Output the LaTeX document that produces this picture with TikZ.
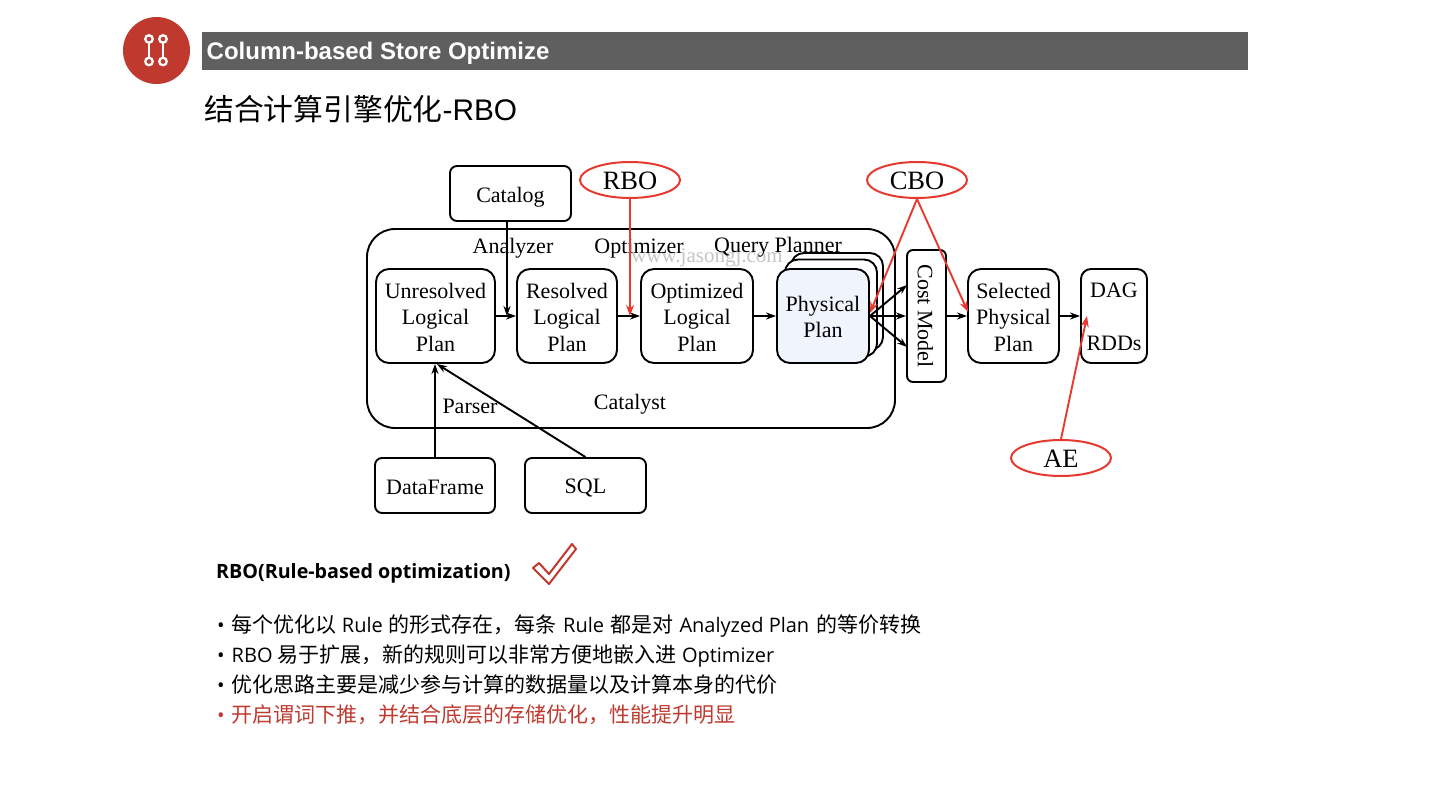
\documentclass[tikz,border=0pt]{standalone}
\usepackage{fontspec}
\usetikzlibrary{arrows.meta,shapes.geometric}
\setmainfont{Open Sans}
\newfontfamily\cjk{Noto Sans CJK SC}
\newfontfamily\sansb{Liberation Sans}
\newfontfamily\serifd{Liberation Serif}
\newcommand{\zh}[1]{{\cjk\fontsize{21}{24}\selectfont #1}}
\newcommand{\dn}[2]{\raisebox{0pt}[\dimexpr\height+#1+#1\relax][\depth]{#2}}
\definecolor{brickred}{HTML}{C0392F}
\definecolor{redline}{HTML}{E8392F}
\definecolor{titlegray}{HTML}{5F5F5F}
\definecolor{physfill}{HTML}{F0F4FC}
\definecolor{wmgray}{HTML}{C4C4C4}
\tikzset{
  x=1pt,y=-1pt,
  plan/.style={draw=black,line width=1.9pt,rounded corners=13pt,inner sep=0pt,align=center,fill=white,
    font=\serifd\fontsize{22}{26.5}\selectfont},
  srcbox/.style={plan,rounded corners=7pt},
  lab/.style={inner sep=0pt,font=\serifd\fontsize{22}{26}\selectfont},
  oval/.style={draw=redline,line width=2pt,ellipse,inner sep=0pt,minimum width=100pt,minimum height=36pt,
    font=\serifd\fontsize{26.5}{30}\selectfont},
  flow/.style={draw=black,line width=1.9pt,-{Stealth[length=10pt,width=7pt]}},
  redflow/.style={draw=redline,line width=1.9pt,-{Stealth[length=11pt,width=8pt]}},
  bodyline/.style={anchor=base west,inner sep=0pt,font=\fontsize{20}{24}\selectfont},
  dumb/.style={draw=white,line width=2.3pt},
}
\begin{document}
\begin{tikzpicture}
\useasboundingbox (0,0) rectangle (1440,810);
% header
\node[circle,fill=brickred,minimum size=67pt,inner sep=0pt] (icon) at (156.5,50.5) {};
\node[circle,dumb,minimum size=7.5pt,inner sep=0pt] (i1t) at (149,39) {};
\node[circle,dumb,minimum size=7.5pt,inner sep=0pt] (i1b) at (149,61.5) {};
\node[circle,dumb,minimum size=7.5pt,inner sep=0pt] (i2t) at (163,39) {};
\node[circle,dumb,minimum size=7.5pt,inner sep=0pt] (i2b) at (163,61.5) {};
\draw[dumb] (i1t) -- (i1b);
\draw[dumb] (i2t) -- (i2b);
\node[fill=titlegray,minimum width=1046pt,minimum height=38pt,inner sep=0pt] (bar) at (725,51) {};
\node[anchor=base west,inner sep=0pt,text=white,font=\sansb\bfseries\fontsize{24}{28}\selectfont] (title) at (206.5,59.5) {Column-based Store Optimize};
\node[anchor=base west,inner sep=0pt,font=\fontsize{29.8}{34}\selectfont] (subtitle) at (204,120.5) {{\cjk 结合计算引擎优化}{\sansb -RBO}};
% diagram
\node[inner sep=0pt,text=wmgray,font=\serifd\fontsize{21}{24}\selectfont] (wm) at (707,258) {www.jasongj.com};
\node[draw=black,line width=1.9pt,rounded corners=28pt,minimum width=528pt,minimum height=199pt,inner sep=0pt] (catalyst) at (631,328.5) {};
\node[srcbox,minimum width=121pt,minimum height=55pt] (catalog) at (510.5,193.5) {\dn{3.5pt}{Catalog}};
\node[plan,minimum width=119pt,minimum height=94pt] (unres) at (435.5,316) {\dn{1pt}{Unresolved}\\Logical\\Plan};
\node[plan,minimum width=100pt,minimum height=94pt] (res) at (567,316) {\dn{1pt}{Resolved}\\Logical\\Plan};
\node[plan,minimum width=112pt,minimum height=94pt] (opt) at (697,316) {\dn{1pt}{Optimized}\\Logical\\Plan};
\node[plan,minimum width=92pt,minimum height=97pt] (phc) at (837,301.5) {};
\node[plan,minimum width=92pt,minimum height=97pt] (phb) at (831,308) {};
\node[plan,fill=physfill,minimum width=92pt,minimum height=94pt] (phys) at (823,316) {\dn{1pt}{Physical}\\Plan};
\node[plan,rounded corners=6pt,minimum width=39pt,minimum height=132pt] (cost) at (926.5,316) {};
\node[inner sep=0pt,rotate=-90,font=\serifd\fontsize{22}{26}\selectfont] (costt) at (925.5,316) {Cost Model};
\node[plan,minimum width=91pt,minimum height=94pt] (sel) at (1013.5,316) {\dn{1pt}{Selected}\\Physical\\Plan};
\node[plan,rounded corners=10pt,minimum width=66pt,minimum height=94pt] (dag) at (1114,316) {\dn{1pt}{DAG}\\\mbox{}\\RDDs};
\node[srcbox,minimum width=120pt,minimum height=55pt] (df) at (435,485.5) {\dn{2pt}{DataFrame}};
\node[srcbox,minimum width=121pt,minimum height=55pt] (sql) at (585.5,485.5) {\dn{2.5pt}{SQL}};
\node[lab] (analyzer) at (513,248.5) {Analyzer};
\node[lab] (optimizer) at (639,248.5) {Optimizer};
\node[lab] (qp) at (778,247.5) {Query Planner};
\node[lab] (parser) at (470,406) {Parser};
\node[lab] (catalystt) at (630,404) {Catalyst};
\node[oval] (rbo) at (630,180) {\dn{0.5pt}{RBO}};
\node[oval] (cbo) at (917,180) {\dn{0.5pt}{CBO}};
\node[oval] (ae) at (1061,458) {\dn{0.5pt}{AE}};
% connectors
\coordinate (catin) at (507,316);
\coordinate (rboin) at (630,316);
\coordinate (cboa) at (870,313);
\coordinate (cbob) at (968,312);
\coordinate (aein) at (1087,316);
\coordinate (dfin) at (435,364);
\coordinate (sqlin) at (437,364);
\coordinate (costa) at (907,285);
\coordinate (costb) at (907,347);
\draw[flow] (unres.east) -- (res.west);
\draw[flow] (res.east) -- (opt.west);
\draw[flow] (opt.east) -- (phys.west);
\draw[flow] (phys.east) -- (cost.west);
\draw[flow] (phys.east) -- (costa);
\draw[flow] (phys.east) -- (costb);
\draw[flow] (cost.east) -- (sel.west);
\draw[flow] (sel.east) -- (dag.west);
\draw[flow] (catalog.south -| catin) -- (catin);
\draw[flow] (df.north) -- (dfin);
\draw[flow] (sql.north) -- (sqlin);
\draw[redflow] (rbo.south) -- (rboin);
\draw[redflow] (cbo.south) -- (cboa);
\draw[redflow] (cbo.south) -- (cbob);
\draw[redflow] (ae.north) -- (aein);
% text below
\node[anchor=base west,inner sep=0pt,font=\bfseries\fontsize{19.7}{24}\selectfont] (rbot) at (216,578) {RBO(Rule-based optimization)};
\draw[draw=brickred,fill=white,line width=2pt,line join=round] (533,568) -- (539,563) -- (549,574) -- (572,544) -- (576,549) -- (549,584) -- cycle;
\node[bodyline] (b1) at (217,632) {•\hspace{7pt}\zh{每个优化以} Rule \zh{的形式存在，每条}\hspace{2pt} Rule \hspace{1pt}\zh{都是对}\hspace{1pt} Analyzed Plan \hspace{2pt}\zh{的等价转换}};
\node[bodyline] (b2) at (217,662) {•\hspace{7pt}RBO \zh{易于扩展，新的规则可以非常方便地嵌入进} Optimizer};
\node[bodyline] (b3) at (217,692) {•\hspace{7pt}\zh{优化思路主要是减少参与计算的数据量以及计算本身的代价}};
\node[bodyline,text=brickred] (b4) at (217,722) {•\hspace{7pt}\zh{开启谓词下推，并结合底层的存储优化，性能提升明显}};
\end{tikzpicture}
\end{document}
